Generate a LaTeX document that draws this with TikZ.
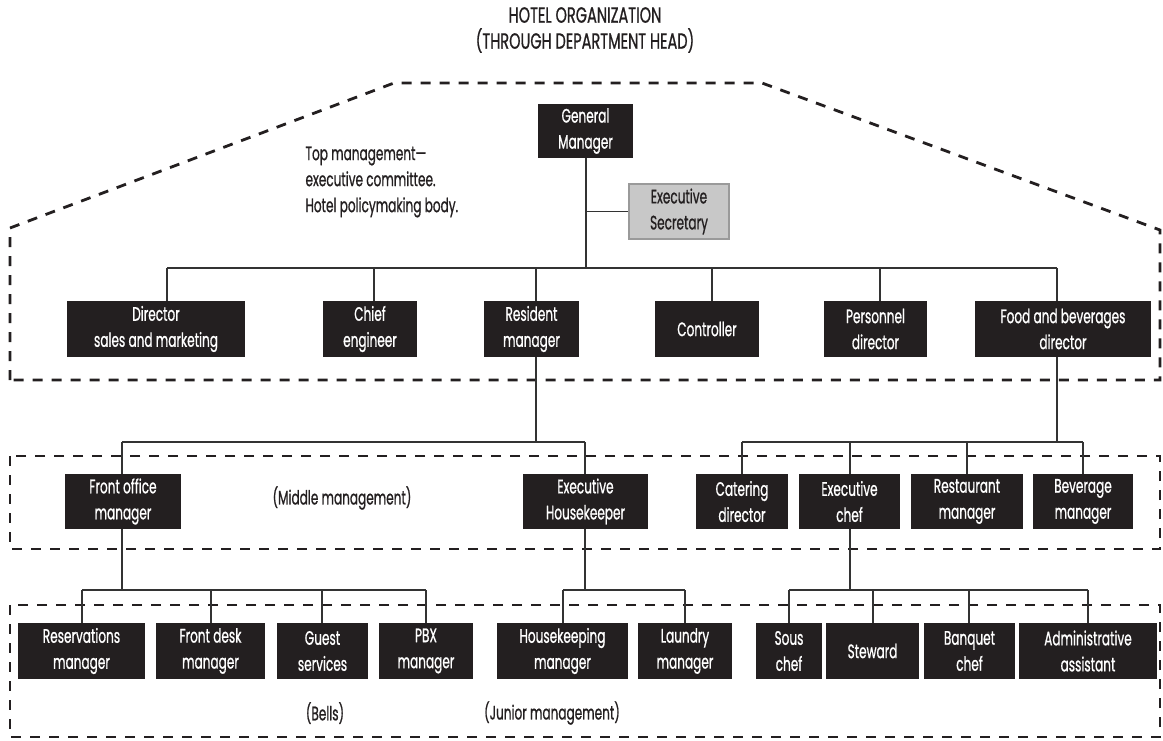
\documentclass[tikz,border=0pt]{standalone}
\usepackage{fontspec}
\setmainfont{Poppins}[FakeStretch=0.62, FakeBold=0.8]
\newfontfamily\titlefam{Poppins}[FakeStretch=0.66, FakeBold=0.8]
\definecolor{boxblack}{HTML}{231F20}
\definecolor{linegray}{HTML}{333333}
\definecolor{secfill}{HTML}{C8C8C8}
\definecolor{secdraw}{HTML}{9A9A9A}
\newcommand{\chartfont}{\fontsize{19.5}{26}\selectfont}
\newcommand{\headfont}{\titlefam\fontsize{22}{26}\selectfont}
\begin{document}
\begin{tikzpicture}[x=1pt,y=-1pt,
  box/.style={fill=boxblack, text=white, inner sep=0pt, align=center, font=\chartfont, minimum height=56pt},
  secbox/.style={fill=secfill, draw=secdraw, line width=2pt, text=boxblack, inner sep=0pt, align=center, font=\chartfont},
  conn/.style={draw=linegray, line width=1.3pt},
  zone/.style={draw=boxblack, line width=2.8pt, dash pattern=on 10pt off 9pt},
  note/.style={text=boxblack, font=\chartfont}]
\useasboundingbox (0,0) rectangle (1163,740);

% zones
\draw[zone] (10,380) -- (10,228) -- (394,83) -- (762,83) -- (1160,230) -- (1160,380) -- cycle;
\draw[zone] (10,456) rectangle (1160,549);
\draw[zone] (10,605) rectangle (1160,737);

% title and notes
\node[note, align=center, font=\headfont] (title) at (585,30) {HOTEL ORGANIZATION\\(THROUGH DEPARTMENT HEAD)};
\node[note, align=left, anchor=west] (topnote) at (302,182) {Top management—\\executive committee.\\Hotel policymaking body.};
\node[note] (midnote) at (342,498) {(Middle management)};
\node[note] (bells) at (325,713) {(Bells)};
\node[note] (junior) at (552,713) {(Junior management)};

% top
\node[box, minimum width=95pt, minimum height=54pt] (gm) at (585.5,131) {General\\Manager};
\node[secbox, minimum width=100pt, minimum height=55pt] (es) at (679,211.5) {Executive\\Secretary};

% row 1
\node[box, minimum width=178pt] (dsm) at (156,329) {Director\\sales and marketing};
\node[box, minimum width=94pt] (ce) at (370,329) {Chief\\engineer};
\node[box, minimum width=95pt] (rm) at (531.5,329) {Resident\\manager};
\node[box, minimum width=104pt] (ctrl) at (707,329) {Controller};
\node[box, minimum width=103pt] (pd) at (875.5,329) {Personnel\\director};
\node[box, minimum width=176pt] (fb) at (1063,329) {Food and beverages\\director};

% row 2
\node[box, minimum width=116pt, minimum height=55pt] (fom) at (123,501.5) {Front office\\manager};
\node[box, minimum width=125pt, minimum height=55pt] (eh) at (585.5,501.5) {Executive\\Housekeeper};
\node[box, minimum width=92pt, minimum height=55pt] (cd) at (742,501.5) {Catering\\director};
\node[box, minimum width=101pt, minimum height=55pt] (ec) at (849.5,501.5) {Executive\\chef};
\node[box, minimum width=112pt, minimum height=55pt] (rsm) at (967,501.5) {Restaurant\\manager};
\node[box, minimum width=100pt, minimum height=55pt] (bm) at (1083,501.5) {Beverage\\manager};

% row 3
\node[box, minimum width=127pt] (res) at (81.5,651) {Reservations\\manager};
\node[box, minimum width=109pt] (fdm) at (210.5,651) {Front desk\\manager};
\node[box, minimum width=91pt] (gs) at (322.5,651) {Guest\\services};
\node[box, minimum width=94pt] (pbx) at (426,651) {PBX\\manager};
\node[box, minimum width=131pt] (hkm) at (562.5,651) {Housekeeping\\manager};
\node[box, minimum width=94pt] (lm) at (685,651) {Laundry\\manager};
\node[box, minimum width=66pt] (sc) at (789,651) {Sous\\chef};
\node[box, minimum width=93pt] (st) at (872.5,651) {Steward};
\node[box, minimum width=91pt] (bc) at (969.5,651) {Banquet\\chef};
\node[box, minimum width=138pt] (aa) at (1088,651) {Administrative\\assistant};

% bus coordinates
\coordinate (gmj) at (586,268);
\coordinate (t1) at (167,268);
\coordinate (t2) at (374,268);
\coordinate (t3) at (536,268);
\coordinate (t4) at (712,268);
\coordinate (t5) at (880,268);
\coordinate (t6) at (1057,268);
\coordinate (rmj) at (536,442);
\coordinate (m1) at (122,442);
\coordinate (m2) at (585,442);
\coordinate (fbj) at (1057,442);
\coordinate (m3) at (742,442);
\coordinate (m4) at (850,442);
\coordinate (m5) at (967,442);
\coordinate (m6) at (1083,442);
\coordinate (fomj) at (122,590);
\coordinate (b1) at (82,590);
\coordinate (b2) at (211,590);
\coordinate (b3) at (322,590);
\coordinate (b4) at (426,590);
\coordinate (ehj) at (585,590);
\coordinate (b5) at (563,590);
\coordinate (b6) at (685,590);
\coordinate (ecj) at (850,590);
\coordinate (b7) at (789,590);
\coordinate (b8) at (873,590);
\coordinate (b9) at (969,590);
\coordinate (b10) at (1088,590);

% connectors
\draw[conn] (gmj |- gm.south) -- (gmj);
\draw[conn] (gmj |- es.west) -- (es.west);
\draw[conn] (t1) -- (t6);
\foreach \c/\n in {t1/dsm,t2/ce,t3/rm,t4/ctrl,t5/pd,t6/fb}
  \draw[conn] (\c) -- (\c |- \n.north);
\draw[conn] (rmj |- rm.south) -- (rmj);
\draw[conn] (m1) -- (m2);
\draw[conn] (m1) -- (m1 |- fom.north);
\draw[conn] (m2) -- (m2 |- eh.north);
\draw[conn] (fbj |- fb.south) -- (fbj);
\draw[conn] (m3) -- (m6);
\foreach \c/\n in {m3/cd,m4/ec,m5/rsm,m6/bm}
  \draw[conn] (\c) -- (\c |- \n.north);
\draw[conn] (fomj |- fom.south) -- (fomj);
\draw[conn] (b1) -- (b4);
\foreach \c/\n in {b1/res,b2/fdm,b3/gs,b4/pbx}
  \draw[conn] (\c) -- (\c |- \n.north);
\draw[conn] (ehj |- eh.south) -- (ehj);
\draw[conn] (b5) -- (b6);
\foreach \c/\n in {b5/hkm,b6/lm}
  \draw[conn] (\c) -- (\c |- \n.north);
\draw[conn] (ecj |- ec.south) -- (ecj);
\draw[conn] (b7) -- (b10);
\foreach \c/\n in {b7/sc,b8/st,b9/bc,b10/aa}
  \draw[conn] (\c) -- (\c |- \n.north);
\end{tikzpicture}
\end{document}
